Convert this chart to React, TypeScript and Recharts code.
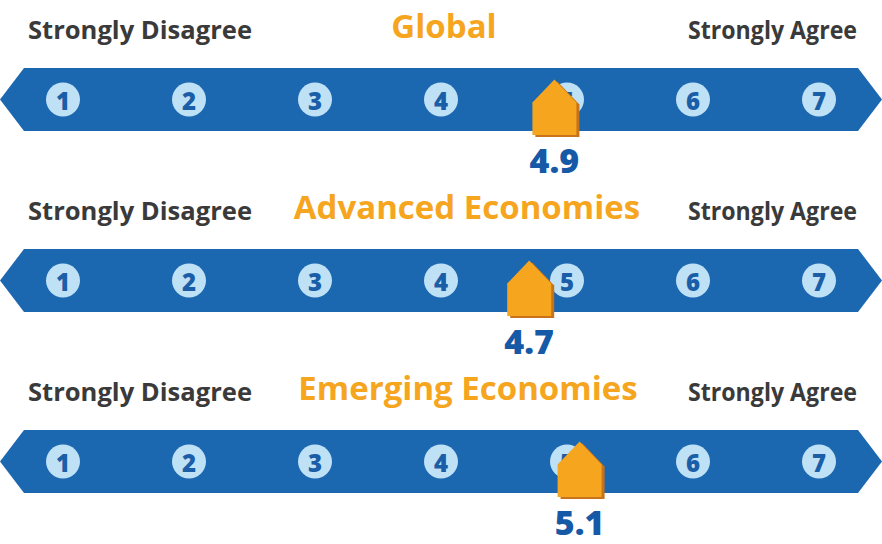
import { ComposedChart, Customized, ReferenceArea, Scatter, XAxis, YAxis } from 'recharts'

// data
const SCALE_POINTS = [1, 2, 3, 4, 5, 6, 7]
const ROW_TITLES = ['Global', 'Advanced Economies', 'Emerging Economies']
const ROW_SCORES = [4.9, 4.7, 5.1]
const LEFT_LABEL = 'Strongly Disagree'
const RIGHT_LABEL = 'Strongly Agree'

// layout
const W = 882
const H = 544
const ROW_H = 181
const BAND_TOP = 68
const BAND_BOTTOM = 131
const BAND_CY = (BAND_TOP + BAND_BOTTOM) / 2
const TITLE_CX = [444, 467, 468]

const BLUE = '#1b67b0'
const LIGHT = '#bfe1f6'
const NUM_BLUE = '#1a5ea8'
const ORANGE = '#f6a51f'
const ORANGE_DARK = '#c8731a'
const GREY = '#3a3a3a'
const FONT = '"Open Sans", "DejaVu Sans", sans-serif'

function Band(props: any) {
  const { x, y, width, height } = props
  const tip = 24
  const cy = y + height / 2
  const pts = [
    [x + tip, y],
    [x + width - tip, y],
    [x + width, cy],
    [x + width - tip, y + height],
    [x + tip, y + height],
    [x, cy],
  ]
  return <polygon points={pts.map((p) => p.join(',')).join(' ')} fill={BLUE} />
}

function ScaleDot(props: any) {
  const { cx, cy, payload } = props
  return (
    <g>
      <circle cx={cx} cy={cy} r={17} fill={LIGHT} />
      <text
        x={cx}
        y={cy + 1}
        textAnchor="middle"
        dominantBaseline="central"
        fontFamily={FONT}
        fontWeight={800}
        fontSize={24}
        fill={NUM_BLUE}
      >
        {payload.x}
      </text>
    </g>
  )
}

function house(cx: number, cy: number) {
  const half = 22
  const top = cy - 20
  const shoulder = cy + 3
  const bottom = cy + (BAND_BOTTOM - BAND_CY) + 4
  return [
    [cx, top],
    [cx + half, shoulder],
    [cx + half, bottom],
    [cx - half, bottom],
    [cx - half, shoulder],
  ]
}

function Marker(props: any) {
  const { cx, cy, payload } = props
  const main = house(cx, cy)
  const shadow = main.map(([px, py]) => [px + 3, py + 2])
  const toStr = (pts: number[][]) => pts.map((p) => p.join(',')).join(' ')
  return (
    <g>
      <polygon points={toStr(shadow)} fill={ORANGE_DARK} />
      <polygon points={toStr(main)} fill={ORANGE} />
      <text
        x={cx}
        y={cy + 73}
        textAnchor="middle"
        fontFamily={FONT}
        fontWeight={800}
        fontSize={34}
        fill="#1659a6"
      >
        {payload.x.toFixed(1)}
      </text>
    </g>
  )
}

function Headings() {
  return (
    <g>
      {ROW_TITLES.map((title, i) => {
        const top = i * ROW_H
        return (
          <g key={title}>
            <text
              x={28}
              y={top + 39}
              fontFamily={FONT}
              fontWeight={700}
              fontSize={25}
              fill={GREY}
              textLength={224}
              lengthAdjust="spacingAndGlyphs"
            >
              {LEFT_LABEL}
            </text>
            <text
              x={688}
              y={top + 39}
              fontFamily={FONT}
              fontWeight={700}
              fontSize={25}
              fill={GREY}
              textLength={169}
              lengthAdjust="spacingAndGlyphs"
            >
              {RIGHT_LABEL}
            </text>
            <text
              x={TITLE_CX[i]}
              y={top + 38}
              textAnchor="middle"
              fontFamily={FONT}
              fontWeight={700}
              fontSize={33}
              fill={ORANGE}
            >
              {title}
            </text>
          </g>
        )
      })}
    </g>
  )
}

export default function App() {
  const dots = ROW_TITLES.flatMap((_, i) =>
    SCALE_POINTS.map((n) => ({ x: n, y: i * ROW_H + BAND_CY }))
  )
  const markers = ROW_SCORES.map((s, i) => ({ x: s, y: i * ROW_H + BAND_CY }))
  return (
    <div style={{ position: 'absolute', left: 0, top: 0, width: W, height: H, background: '#fff' }}>
      <ComposedChart width={W} height={H} margin={{ top: 0, right: 0, bottom: 0, left: 0 }}>
        <XAxis type="number" dataKey="x" domain={[0.5, 7.5]} hide />
        <YAxis type="number" dataKey="y" domain={[0, H]} reversed hide />
        {ROW_TITLES.map((t, i) => (
          <ReferenceArea
            key={t}
            x1={0.5}
            x2={7.5}
            y1={i * ROW_H + BAND_TOP}
            y2={i * ROW_H + BAND_BOTTOM}
            shape={<Band />}
            ifOverflow="visible"
          />
        ))}
        <Customized component={() => <Headings />} />
        <Scatter data={dots} shape={<ScaleDot />} isAnimationActive={false} />
        <Scatter data={markers} shape={<Marker />} isAnimationActive={false} />
      </ComposedChart>
    </div>
  )
}
